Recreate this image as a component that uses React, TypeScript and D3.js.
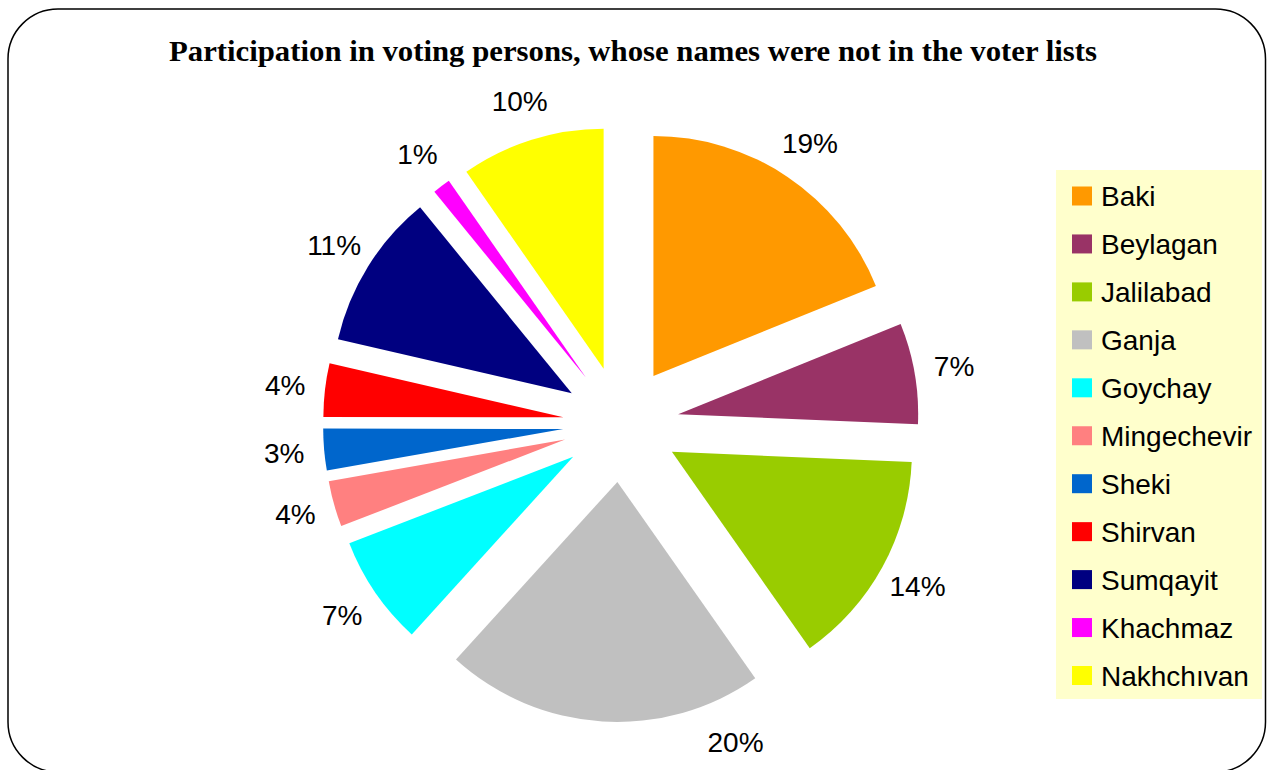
import React from "react";
import * as d3 from "d3";

const categories = [
  "Baki",
  "Beylagan",
  "Jalilabad",
  "Ganja",
  "Goychay",
  "Mingechevir",
  "Sheki",
  "Shirvan",
  "Sumqayit",
  "Khachmaz",
  "Nakhchıvan",
];
const values = [18.9, 6.8, 14.6, 21.5, 7.4, 3.1, 2.8, 3.6, 10.5, 1.2, 9.7];
const percentLabels = ["19%", "7%", "14%", "20%", "7%", "4%", "3%", "4%", "11%", "1%", "10%"];
const colors = [
  "#FF9900",
  "#993366",
  "#99CC00",
  "#C0C0C0",
  "#00FFFF",
  "#FF8080",
  "#0066CC",
  "#FF0000",
  "#000080",
  "#FF00FF",
  "#FFFF00",
];
const title = "Participation in voting persons, whose names were not in the voter lists";

const W = 1267;
const H = 770;
const CX = 621;
const CY = 424;
const R = 240;
const EXPLODE = 58;
const LABEL_R = 338;
const LABEL_YMAX = 742;

export default function App() {
  const data = categories.map((c, i) => ({ name: c, value: values[i], label: percentLabels[i], color: colors[i] }));
  const pie = d3
    .pie<any>()
    .sort(null)
    .value((d: any) => d.value)
    .startAngle(0)
    .endAngle(2 * Math.PI);
  const arcs = pie(data);
  const arc = d3.arc<any>().innerRadius(0).outerRadius(R);

  const legendY = d3
    .scalePoint<string>()
    .domain(categories)
    .range([196, 675.5]);

  const sans = "'Liberation Sans', Arial, sans-serif";

  return (
    <svg
      width={W}
      height={H}
      style={{ position: "absolute", left: 0, top: 0, background: "#fff" }}
      xmlns="http://www.w3.org/2000/svg"
    >
      <rect x={8} y={9} width={1257.5} height={763} rx={50} ry={50} fill="#fff" stroke="#000" strokeWidth={1.5} />
      <text
        x={633}
        y={61}
        textAnchor="middle"
        fontFamily="'Liberation Serif', 'Times New Roman', serif"
        fontWeight="bold"
        fontSize={29}
        textLength={928}
        lengthAdjust="spacingAndGlyphs"
      >
        {title}
      </text>
      <g transform={`translate(${CX},${CY})`}>
        {arcs.map((a, i) => {
          const mid = (a.startAngle + a.endAngle) / 2;
          const dx = Math.sin(mid) * EXPLODE;
          const dy = -Math.cos(mid) * EXPLODE;
          return (
            <path key={i} d={arc(a) as string} transform={`translate(${dx},${dy})`} fill={a.data.color} />
          );
        })}
        {arcs.map((a, i) => {
          const mid = (a.startAngle + a.endAngle) / 2;
          let x = Math.sin(mid) * LABEL_R;
          let y = -Math.cos(mid) * LABEL_R;
          const ymax = LABEL_YMAX - CY;
          if (y > ymax) {
            y = ymax;
            x = Math.sqrt(Math.max(0, LABEL_R * LABEL_R - y * y));
          }
          return (
            <text
              key={"l" + i}
              x={x}
              y={y}
              textAnchor="middle"
              dominantBaseline="central"
              fontFamily={sans}
              fontSize={28}
              fill="#000"
            >
              {a.data.label}
            </text>
          );
        })}
      </g>
      <rect x={1056} y={170} width={206} height={529} fill="#FFFFCC" />
      {data.map((d, i) => {
        const cy = legendY(d.name) as number;
        return (
          <g key={"g" + i}>
            <rect x={1072} y={cy - 9.5} width={20} height={19} fill={d.color} />
            <text x={1101} y={cy + 10} fontFamily={sans} fontSize={28} fill="#000">
              {d.name}
            </text>
          </g>
        );
      })}
    </svg>
  );
}
